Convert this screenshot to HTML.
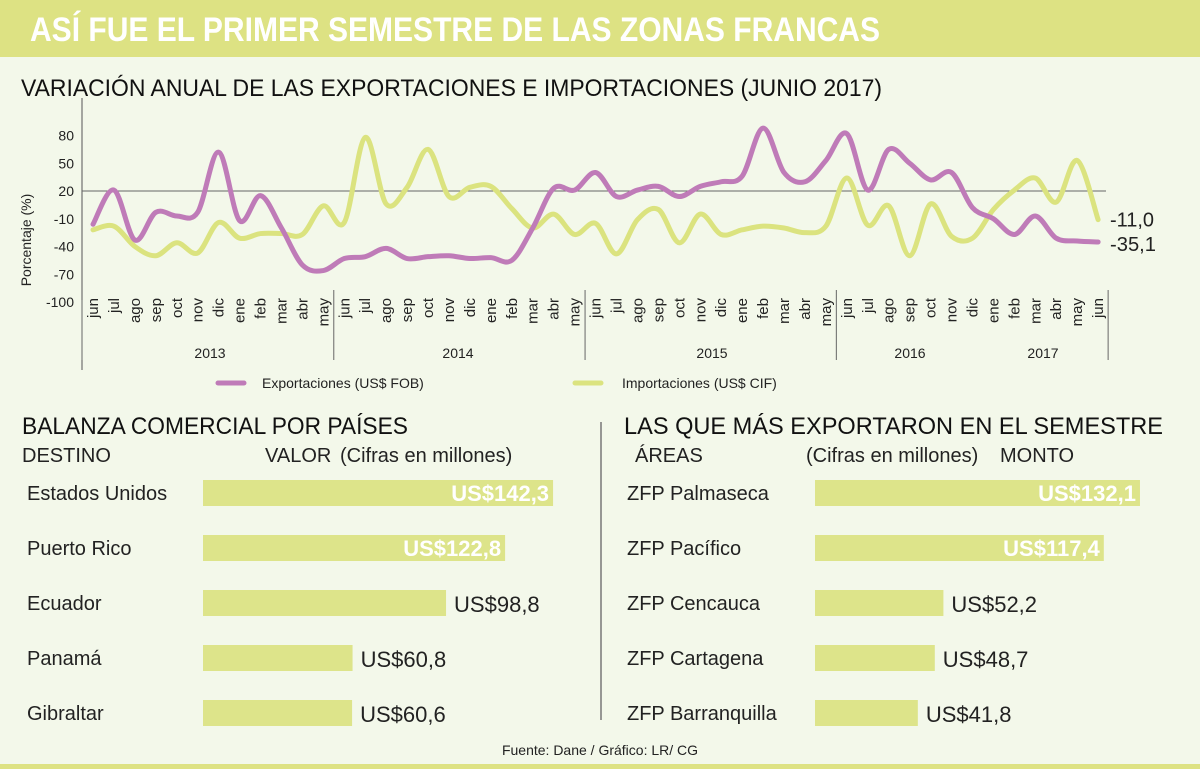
<!DOCTYPE html>
<html><head><meta charset="utf-8"><style>
body{margin:0;width:1200px;height:769px;background:#f3f8ea;overflow:hidden;font-family:"Liberation Sans",sans-serif}
svg{display:block}
</style></head><body>
<svg id="chart" width="1200" height="769" xmlns="http://www.w3.org/2000/svg" font-family="'Liberation Sans',sans-serif">
<rect x="0" y="0" width="1200" height="57" fill="#dde283"/>
<text x="30" y="41" font-size="34" font-weight="bold" fill="#fff" textLength="850" lengthAdjust="spacingAndGlyphs">ASÍ FUE EL PRIMER SEMESTRE DE LAS ZONAS FRANCAS</text>
<text x="21" y="96" font-size="24" fill="#111" textLength="861" lengthAdjust="spacingAndGlyphs">VARIACIÓN ANUAL DE LAS EXPORTACIONES E IMPORTACIONES (JUNIO 2017)</text>
<g id="plot"></g>
<g id="bars"></g>
<line x1="601" y1="422" x2="601" y2="720" stroke="#777" stroke-width="1.5"/>
<text x="600" y="755" font-size="14" text-anchor="middle" fill="#222">Fuente: Dane / Gráfico: LR/ CG</text>
<rect x="0" y="764" width="1200" height="5" fill="#dde283"/>
</svg>
<script>
const months=["jun","jul","ago","sep","oct","nov","dic","ene","feb","mar","abr","may"];
const years=["2013","2014","2015","2016","2017"];
const yTicks=[80,50,20,-10,-40,-70,-100];
const exportsData=[-16,21,-33,-3,-7,-3,62,-12,15,-20,-60,-66,-53,-51,-42,-53,-51,-50,-53,-52,-55,-20,23,21,40,14,21,25,14,25,30,36,88,40,30,53,82,21,65,50,32,40,2,-10,-27,-7,-31,-34,-35.1];
const importsData=[-22,-18,-40,-50,-36,-47,-14,-31,-26,-26,-27,4,-14,78,6,24,65,14,24,25,1,-20,-5,-27,-15,-48,-11,0,-36,-5,-27,-22,-18,-20,-25,-18,34,-17,4,-50,6,-29,-31,0,21,34,8,53,-11];
const countries=["Estados Unidos","Puerto Rico","Ecuador","Panamá","Gibraltar"];
const countryValues=[142.3,122.8,98.8,60.8,60.6];
const areas=["ZFP Palmaseca","ZFP Pacífico","ZFP Cencauca","ZFP Cartagena","ZFP Barranquilla"];
const areaValues=[132.1,117.4,52.2,48.7,41.8];

const NS="http://www.w3.org/2000/svg";
function mk(tag,attrs,parent,text){const e=document.createElementNS(NS,tag);for(const k in attrs)e.setAttribute(k,attrs[k]);if(text!==undefined)e.textContent=text;parent.appendChild(e);return e;}
const plot=document.getElementById('plot');
const X0=93,DX=20.94;
const xs=i=>X0+i*DX;
const ys=v=>191-(v-20)*0.925;
function fmt(v){return v.toFixed(1).replace('.',',');}

let a=mk('line',{x1:82,y1:98,x2:82,y2:370,stroke:'#555','stroke-width':1},plot);


let b=mk('line',{x1:82,y1:ys(20),x2:1106,y2:ys(20),stroke:'#666','stroke-width':1},plot);


yTicks.forEach(t=>{const e=mk('text',{x:74,y:ys(t)+5,'font-size':14,'text-anchor':'end',fill:'#222'},plot,String(t));

});
let yt=mk('text',{x:31,y:240,'font-size':14,'text-anchor':'middle',fill:'#222',transform:'rotate(-90 31 240)'},plot,'Porcentaje (%)');



const n=exportsData.length;
for(let i=0;i<n;i++){
  const lx=xs(i)+5,ly=298;
  const t=mk('text',{x:lx,y:ly,'font-size':15,'text-anchor':'end',fill:'#222',transform:`rotate(-90 ${lx} ${ly})`},plot,months[i%12]);
  
  
}
for(let k=0;k<=4;k++){
  const sx=k===0?82:(k===4?xs(n-1)+10:xs(k*12)-10.5);
  const l=mk('line',{x1:sx,y1:k===0?300:290,x2:sx,y2:360,stroke:'#666','stroke-width':1},plot);
  
  
}
years.forEach((y,k)=>{const e=mk('text',{x:[210,458,712,910,1043][k],y:358,'font-size':14,'text-anchor':'middle',fill:'#222'},plot,y);

});

function smooth(data){
  const p=data.map((v,i)=>[xs(i),ys(v)]);
  let d=`M${p[0][0]},${p[0][1]}`;
  for(let i=0;i<p.length-1;i++){
    const p0=p[i-1]||p[i],p1=p[i],p2=p[i+1],p3=p[i+2]||p2;
    const c1=[p1[0]+(p2[0]-p0[0])/6,p1[1]+(p2[1]-p0[1])/6];
    const c2=[p2[0]-(p3[0]-p1[0])/6,p2[1]-(p3[1]-p1[1])/6];
    d+=`C${c1[0]},${c1[1]} ${c2[0]},${c2[1]} ${p2[0]},${p2[1]}`;
  }
  return d;
}
const imp=mk('path',{d:smooth(importsData),fill:'none',stroke:'#dbe37f','stroke-width':5,'stroke-linecap':'round'},plot);


const exp=mk('path',{d:smooth(exportsData),fill:'none',stroke:'#bf7bb8','stroke-width':5,'stroke-linecap':'round'},plot);


const li=mk('text',{x:1110,y:ys(importsData[n-1])+7,'font-size':20,fill:'#222',textLength:44,lengthAdjust:'spacingAndGlyphs'},plot,fmt(importsData[n-1]));


const le=mk('text',{x:1110,y:ys(exportsData[n-1])+9,'font-size':20,fill:'#222',textLength:46,lengthAdjust:'spacingAndGlyphs'},plot,fmt(exportsData[n-1]));



const lg1=mk('line',{x1:218,y1:383,x2:244,y2:383,stroke:'#bf7bb8','stroke-width':5,'stroke-linecap':'round'},plot);


const lt1=mk('text',{x:262,y:388,'font-size':14,fill:'#222'},plot,'Exportaciones (US$ FOB)');


const lg2=mk('line',{x1:575,y1:383,x2:601,y2:383,stroke:'#dbe37f','stroke-width':5,'stroke-linecap':'round'},plot);


const lt2=mk('text',{x:622,y:388,'font-size':14,fill:'#222'},plot,'Importaciones  (US$ CIF)');



const bars=document.getElementById('bars');
const SC=2.46;
function section(x0,titleX,titleW,labelX,names,vals,title,h1,h2,h2x,h3,h3x,pref){
  const t=mk('text',{x:titleX,y:434,'font-size':24,fill:'#111',textLength:titleW,lengthAdjust:'spacingAndGlyphs'},bars,title);
  
  
  const c1=mk('text',{x:h1[0],y:462,'font-size':20,fill:'#222'},bars,h1[1]);
  
  
  const c2=mk('text',{x:h2x,y:462,'font-size':20,fill:'#222'},bars,h2);
  
  
  if(h3){const c3=mk('text',{x:h3x,y:462,'font-size':20,fill:'#222'},bars,h3);
  
  }
  names.forEach((nm,i)=>{
    const cy=493+i*55;
    const l=mk('text',{x:labelX,y:cy+7,'font-size':20,fill:'#222'},bars,nm);
    
    
    const w=vals[i]*SC;
    const r=mk('rect',{x:x0,y:cy-13,width:w,height:26,fill:'#dde48a'},bars);
    
    
    const txt='US$'+fmt(vals[i]);
    const inside=vals[i]>100;
    const v=mk('text',inside?{x:x0+w-4,y:cy+8,'font-size':22,'font-weight':'bold','text-anchor':'end',fill:'#fff'}:{x:x0+w+8,y:cy+9,'font-size':22,fill:'#222'},bars,txt);
    
    
  });
}
section(203,22,386,27,countries,countryValues,'BALANZA COMERCIAL POR PAÍSES',[22,'DESTINO'],'VALOR',265,'(Cifras en millones)',340,'balance');
section(815,624,539,627,areas,areaValues,'LAS QUE MÁS EXPORTARON EN EL SEMESTRE',[635,'ÁREAS'],'(Cifras en millones)',806,'MONTO',1000,'exports');
</script>
</body></html>
